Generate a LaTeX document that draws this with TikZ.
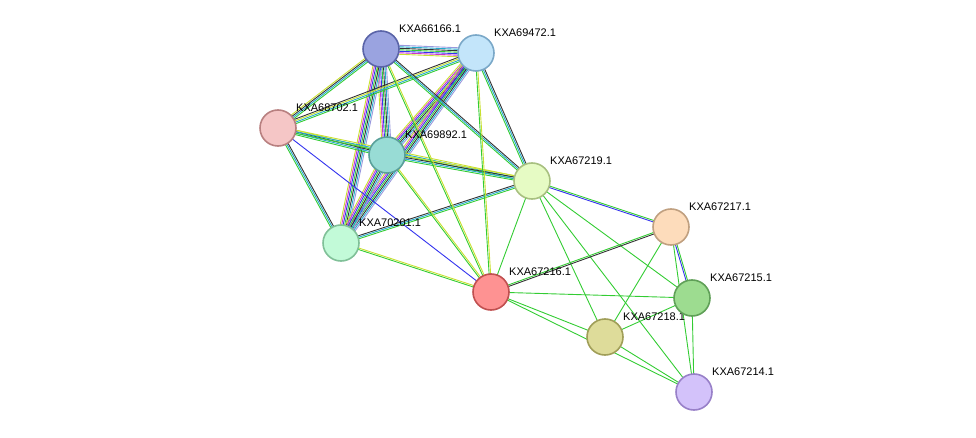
\documentclass[tikz,border=0pt]{standalone}
\usepackage{fontspec}
\setmainfont{Liberation Sans}
\usetikzlibrary{calc}
\definecolor{cG}{HTML}{33CC33}
\definecolor{cC}{HTML}{22AACC}
\definecolor{cK}{HTML}{333333}
\definecolor{cY}{HTML}{C8E030}
\definecolor{cB}{HTML}{3333EE}
\definecolor{cM}{HTML}{CC33CC}
\definecolor{cP}{HTML}{9999DD}
\definecolor{fa}{HTML}{9AA3E0}\definecolor{da}{HTML}{5A64A8}
\definecolor{fb}{HTML}{C3E5FA}\definecolor{db}{HTML}{7AA8C8}
\definecolor{fc}{HTML}{F5C6C6}\definecolor{dc}{HTML}{B88080}
\definecolor{fd}{HTML}{98DCD5}\definecolor{dd}{HTML}{5AA09A}
\definecolor{fe}{HTML}{E6FBC4}\definecolor{de}{HTML}{A8C080}
\definecolor{ff}{HTML}{FDDCBB}\definecolor{df}{HTML}{C0A080}
\definecolor{fg}{HTML}{C2FAD8}\definecolor{dg}{HTML}{80C098}
\definecolor{fh}{HTML}{FE9292}\definecolor{dh}{HTML}{C05050}
\definecolor{fi}{HTML}{9DDC90}\definecolor{di}{HTML}{60A058}
\definecolor{fj}{HTML}{DEDC9A}\definecolor{dj}{HTML}{A09E58}
\definecolor{fk}{HTML}{D3C2FA}\definecolor{dk}{HTML}{9880C8}
\tikzset{
  prot/.style={circle,minimum size=36pt,inner sep=0pt,line width=1.6pt,fill=f#1,draw=d#1},
  lab/.style={anchor=south west,inner sep=0pt,font=\fontsize{11}{13}\selectfont},
  edge/.style={line width=0.9pt}
}
\newcommand{\E}[3]{%
  \foreach \c [count=\i] in {#3}{\xdef\nn{\i}}%
  \foreach \c [count=\i] in {#3}{%
    \pgfmathsetmacro{\o}{(\i-(\nn+1)/2)*1.5}%
    \draw[edge,color=\c] ($(#1)!\o pt!90:(#2)$) -- ($(#2)!\o pt!-90:(#1)$);}%
}
\begin{document}
\begin{tikzpicture}[x=1pt,y=-1pt]
\useasboundingbox (0,0) rectangle (976,438);
\coordinate (a) at (381,49);
\coordinate (b) at (476,53);
\coordinate (c) at (278,128);
\coordinate (d) at (387,155);
\coordinate (e) at (532,181);
\coordinate (f) at (671,227);
\coordinate (g) at (341,243);
\coordinate (h) at (491,292);
\coordinate (i) at (692,298);
\coordinate (j) at (605,337);
\coordinate (k) at (694,392);
% edges
\E{a}{b}{cY,cM,cB,cG,cK,cC,cP}
\E{a}{d}{cY,cM,cB,cG,cK,cC,cP}
\E{a}{g}{cY,cM,cB,cG,cK,cC,cP}
\E{b}{d}{cY,cM,cB,cG,cK,cC,cP}
\E{b}{g}{cY,cM,cB,cG,cK,cC,cP}
\E{d}{g}{cY,cM,cB,cG,cK,cC,cP}
\E{c}{a}{cG,cC,cK,cY}
\E{c}{b}{cG,cC,cY,cK}
\E{c}{d}{cG,cC,cK,cY}
\E{c}{g}{cG,cC,cK}
\E{c}{e}{cG,cC,cY}
\E{c}{h}{cB}
\E{a}{e}{cG,cC,cK}
\E{b}{e}{cG,cC,cK}
\E{d}{e}{cG,cC,cK,cY}
\E{g}{e}{cG,cC,cK}
\E{a}{h}{cG,cY}
\E{b}{h}{cG,cY}
\E{d}{h}{cG,cY}
\E{g}{h}{cG,cY}
\E{e}{h}{cG}
\E{e}{f}{cB,cG}
\E{e}{i}{cG}
\E{e}{j}{cG}
\E{e}{k}{cG}
\E{h}{f}{cK,cG}
\E{h}{i}{cG}
\E{h}{j}{cG}
\E{h}{k}{cG}
\E{f}{i}{cB,cG}
\E{f}{j}{cG}
\E{f}{k}{cG}
\E{i}{k}{cG}
\E{j}{k}{cG}
\E{j}{i}{cG}
% labels
\foreach \n/\t in {a/KXA66166.1,b/KXA69472.1,c/KXA68702.1,d/KXA69892.1,e/KXA67219.1,f/KXA67217.1,g/KXA70201.1,h/KXA67216.1,i/KXA67215.1,j/KXA67218.1,k/KXA67214.1}
  \node[lab] (L\n) at ($(\n)+(18,-16)$) {\t};
% nodes
\foreach \n in {a,b,c,d,e,f,g,h,i,j,k}
  \node[prot=\n] (N\n) at (\n) {};
\end{tikzpicture}
\end{document}
